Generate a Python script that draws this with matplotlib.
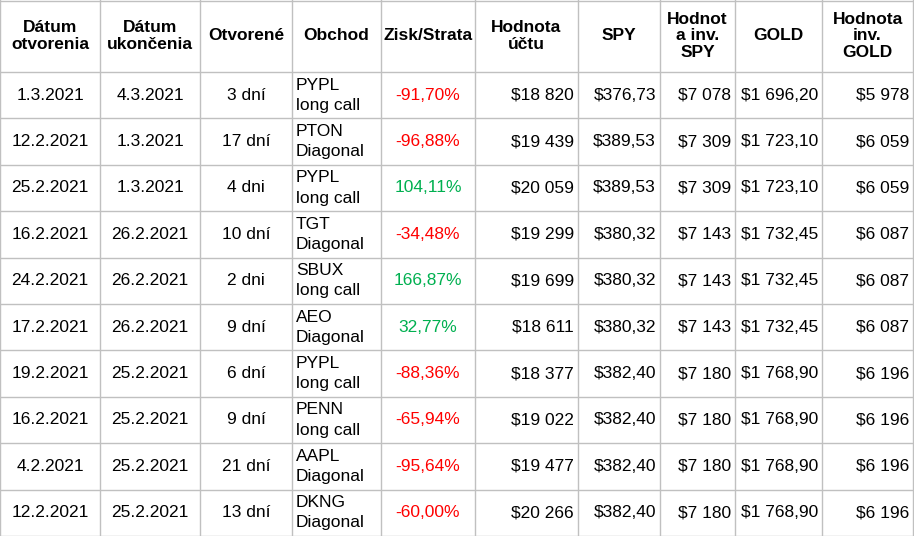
import matplotlib.pyplot as plt

headers = ["Dátum\notvorenia", "Dátum\nukončenia", "Otvorené", "Obchod", "Zisk/Strata",
           "Hodnota\núčtu", "SPY", "Hodnot\na inv.\nSPY", "GOLD", "Hodnota\ninv.\nGOLD"]
open_dates = ["1.3.2021", "12.2.2021", "25.2.2021", "16.2.2021", "24.2.2021",
              "17.2.2021", "19.2.2021", "16.2.2021", "4.2.2021", "12.2.2021"]
close_dates = ["4.3.2021", "1.3.2021", "1.3.2021", "26.2.2021", "26.2.2021",
               "26.2.2021", "25.2.2021", "25.2.2021", "25.2.2021", "25.2.2021"]
days = ["3 dní", "17 dní", "4 dni", "10 dní", "2 dni", "9 dní", "6 dní", "9 dní", "21 dní", "13 dní"]
trades = ["PYPL\nlong call", "PTON\nDiagonal", "PYPL\nlong call", "TGT\nDiagonal", "SBUX\nlong call",
          "AEO\nDiagonal", "PYPL\nlong call", "PENN\nlong call", "AAPL\nDiagonal", "DKNG\nDiagonal"]
pnl = [-91.70, -96.88, 104.11, -34.48, 166.87, 32.77, -88.36, -65.94, -95.64, -60.00]
account = ["$18 820", "$19 439", "$20 059", "$19 299", "$19 699",
           "$18 611", "$18 377", "$19 022", "$19 477", "$20 266"]
spy = ["$376,73", "$389,53", "$389,53", "$380,32", "$380,32",
       "$380,32", "$382,40", "$382,40", "$382,40", "$382,40"]
spy_inv = ["$7 078", "$7 309", "$7 309", "$7 143", "$7 143",
           "$7 143", "$7 180", "$7 180", "$7 180", "$7 180"]
gold = ["$1 696,20", "$1 723,10", "$1 723,10", "$1 732,45", "$1 732,45",
        "$1 732,45", "$1 768,90", "$1 768,90", "$1 768,90", "$1 768,90"]
gold_inv = ["$5 978", "$6 059", "$6 059", "$6 087", "$6 087",
            "$6 087", "$6 196", "$6 196", "$6 196", "$6 196"]

col_x = [0, 100, 200, 292, 381, 475, 578, 660, 735, 822, 913]
header_h = 72
row_h = (536 - header_h) / 10
fs = 12.5

fig = plt.figure(figsize=(9.14, 5.36), dpi=100)
ax = fig.add_axes([0, 0, 1, 1])
ax.set_xlim(0, 914)
ax.set_ylim(536, 0)
ax.axis("off")

for x in col_x:
    ax.plot([x, x], [0, 536], color="#c0c0c0", lw=1)
ax.plot([0, 914], [0.5, 0.5], color="#c0c0c0", lw=1)
ax.plot([0, 914], [header_h, header_h], color="#c0c0c0", lw=1)
for i in range(1, 11):
    y = header_h + i * row_h
    ax.plot([0, 914], [y, y], color="#c0c0c0", lw=1)

for j, h in enumerate(headers):
    cx = (col_x[j] + col_x[j + 1]) / 2
    ax.text(cx, header_h / 2, h, ha="center", va="center", fontsize=fs,
            fontweight="bold", linespacing=1.1, family="Liberation Sans")

for i in range(10):
    cy = header_h + (i + 0.5) * row_h
    cells = [open_dates[i], close_dates[i], days[i], trades[i],
             f"{pnl[i]:.2f}%".replace(".", ","), account[i], spy[i], spy_inv[i], gold[i], gold_inv[i]]
    for j, c in enumerate(cells):
        color = "black"
        if j == 4:
            color = "#ff0000" if pnl[i] < 0 else "#00b050"
        if j == 3:
            ax.text(col_x[j] + 4, cy, c, ha="left", va="center", fontsize=fs,
                    linespacing=1.45, family="Liberation Sans")
        elif j >= 5:
            ax.text(col_x[j + 1] - 4, cy, c, ha="right", va="center", fontsize=fs,
                    color=color, family="Liberation Sans")
        else:
            ax.text((col_x[j] + col_x[j + 1]) / 2, cy, c, ha="center", va="center",
                    fontsize=fs, color=color, family="Liberation Sans")

fig.savefig("out.png", dpi=100)
